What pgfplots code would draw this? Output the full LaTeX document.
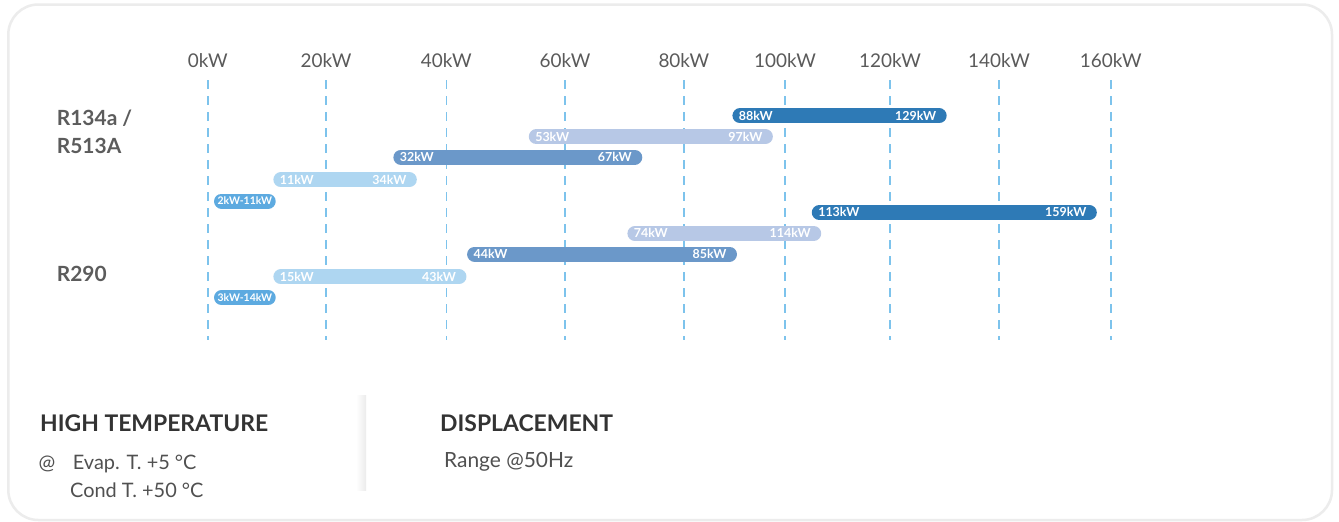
\documentclass[border=0pt]{standalone}
\usepackage{pgfplots}
\pgfplotsset{compat=1.18}
\usepackage{fontspec}
\setmainfont{Lato}

\definecolor{darkbar}{HTML}{2E7AB6}
\definecolor{midbar}{HTML}{6B98C9}
\definecolor{lavbar}{HTML}{B7C8E6}
\definecolor{skybar}{HTML}{AED6F1}
\definecolor{smallbar}{HTML}{5DAAE0}
\definecolor{gridblue}{HTML}{7DC3EC}
\definecolor{ticktext}{HTML}{5A5A5A}
\definecolor{rowtext}{HTML}{5C5C5C}
\definecolor{headtext}{HTML}{333333}
\definecolor{bodytext}{HTML}{505050}
\definecolor{bordergray}{HTML}{ECECEC}

% one range bar: colour, from, to, lane, left label, right label
\newcommand{\rangebar}[6]{%
  \addplot[draw=#1, line width=15bp, line cap=round,
           shorten <=7.5bp, shorten >=7.5bp]
    coordinates {(#2,#4) (#3,#4)}
    node[pos=0, anchor=base west, xshift=-1bp, yshift=-4.3bp, barlabel] {#5}
    node[pos=1, anchor=base east, xshift=-3bp, yshift=-4.3bp, barlabel] {#6};
}
% short bar with one centred label
\newcommand{\smallbar}[5]{%
  \addplot[draw=#1, line width=15bp, line cap=round,
           shorten <=7.5bp, shorten >=7.5bp]
    coordinates {(#2,#4) (#3,#4)}
    node[pos=0.5, anchor=base, yshift=-3.8bp, barlabel,
         font=\fontsize{10.5}{10.5}\selectfont\bfseries] {#5};
}

% the printed kW scale is not evenly spaced: each 20 kW step gets its own width
\pgfmathdeclarefunction{kwpos}{1}{%
  \begingroup
  \pgfkeys{/pgf/fpu=true, /pgf/fpu/output format=fixed}%
  \pgfmathparse{(#1<20) ? (#1*118.3/20) :
      ((#1<40) ? (118.3+(#1-20)*120.3/20) :
      ((#1<60) ? (238.6+(#1-40)*118.7/20) :
      ((#1<80) ? (357.3+(#1-60)*118.9/20) :
      ((#1<100) ? (476.2+(#1-80)*101.1/20) :
      ((#1<120) ? (577.3+(#1-100)*105/20) :
      ((#1<140) ? (682.3+(#1-120)*109/20) :
      (791.3+(#1-140)*111.8/20)))))))}%
  \pgfmathsmuggle\pgfmathresult
  \endgroup
}

\begin{document}
\begin{tikzpicture}
\tikzset{barlabel/.style={inner sep=0pt, text=white,
  font=\fontsize{12.5}{12.5}\selectfont\bfseries}}
\path[use as bounding box, fill=white] (0,0) rectangle (1339bp,-522bp);
\draw[bordergray, line width=2.5bp, rounded corners=30bp]
  (8.3bp,-4.5bp) rectangle (1332bp,-520bp);
\shade[left color=white, right color=black!8] (356bp,-395bp) rectangle (366bp,-490bp);

\begin{axis}[
    at={(207.7bp,-340bp)}, anchor=south west,
    scale only axis, width=903.1bp, height=260bp,
    clip=false,
    x coord trafo/.code={\pgfmathparse{kwpos(#1)}},
    xmin=0, xmax=160,
    ymin=80, ymax=340, y dir=reverse,
    xtick={0,20,40,60,80,100,120,140,160},
    xticklabels={0kW,20kW,40kW,60kW,80kW,100kW,120kW,140kW,160kW},
    xticklabel pos=upper,
    xticklabel style={font=\fontsize{19}{19}\selectfont, text=ticktext,
      anchor=base, yshift=12.5bp},
    ytick=\empty,
    axis line style={draw=none},
    major tick length=0pt,
    xmajorgrids,
    major grid style={gridblue, line width=1.6bp, dash pattern=on 9bp off 7bp},
]
% R134a / R513A
\rangebar{darkbar}{89.6}{130.4}{115.8}{88kW}{129kW}
\rangebar{lavbar}{53.9}{97.6}{136.7}{53kW}{97kW}
\rangebar{midbar}{31.2}{73.0}{157.2}{32kW}{67kW}
\rangebar{skybar}{11.1}{35.1}{179.8}{11kW}{34kW}
\smallbar{smallbar}{1.07}{11.5}{201.0}{2kW-11kW}
% R290
\rangebar{darkbar}{105.1}{157.5}{212.5}{113kW}{159kW}
\rangebar{lavbar}{70.5}{106.9}{233.5}{74kW}{114kW}
\rangebar{midbar}{43.5}{90.5}{254.0}{44kW}{85kW}
\rangebar{skybar}{11.1}{43.4}{276.8}{15kW}{43kW}
\smallbar{smallbar}{1.07}{11.5}{297.7}{3kW-14kW}
\end{axis}

\begin{scope}[every node/.style={inner sep=0pt, anchor=base west}]
\node[font=\fontsize{21}{21}\selectfont\bfseries, text=rowtext] at (56.7bp,-125.7bp) {R134a /};
\node[font=\fontsize{21}{21}\selectfont\bfseries, text=rowtext] at (56.7bp,-153.3bp) {R513A};
\node[font=\fontsize{21}{21}\selectfont\bfseries, text=rowtext] at (56.7bp,-281.7bp) {R290};

\node[font=\fontsize{23}{23}\selectfont\bfseries, text=headtext] at (40bp,-431bp) {HIGH TEMPERATURE};
\node[font=\fontsize{20}{20}\selectfont, text=bodytext] at (38.3bp,-469.3bp) {@};
\node[font=\fontsize{20}{20}\selectfont, text=bodytext] at (72.7bp,-469.3bp) {Evap. T. +5 °C};
\node[font=\fontsize{20}{20}\selectfont, text=bodytext] at (70bp,-497.3bp) {Cond T. +50 °C};

\node[font=\fontsize{23}{23}\selectfont\bfseries, text=headtext] at (440bp,-431bp) {DISPLACEMENT};
\node[font=\fontsize{21}{21}\selectfont, text=bodytext] at (444bp,-467.3bp) {Range @50Hz};
\end{scope}
\end{tikzpicture}
\end{document}
